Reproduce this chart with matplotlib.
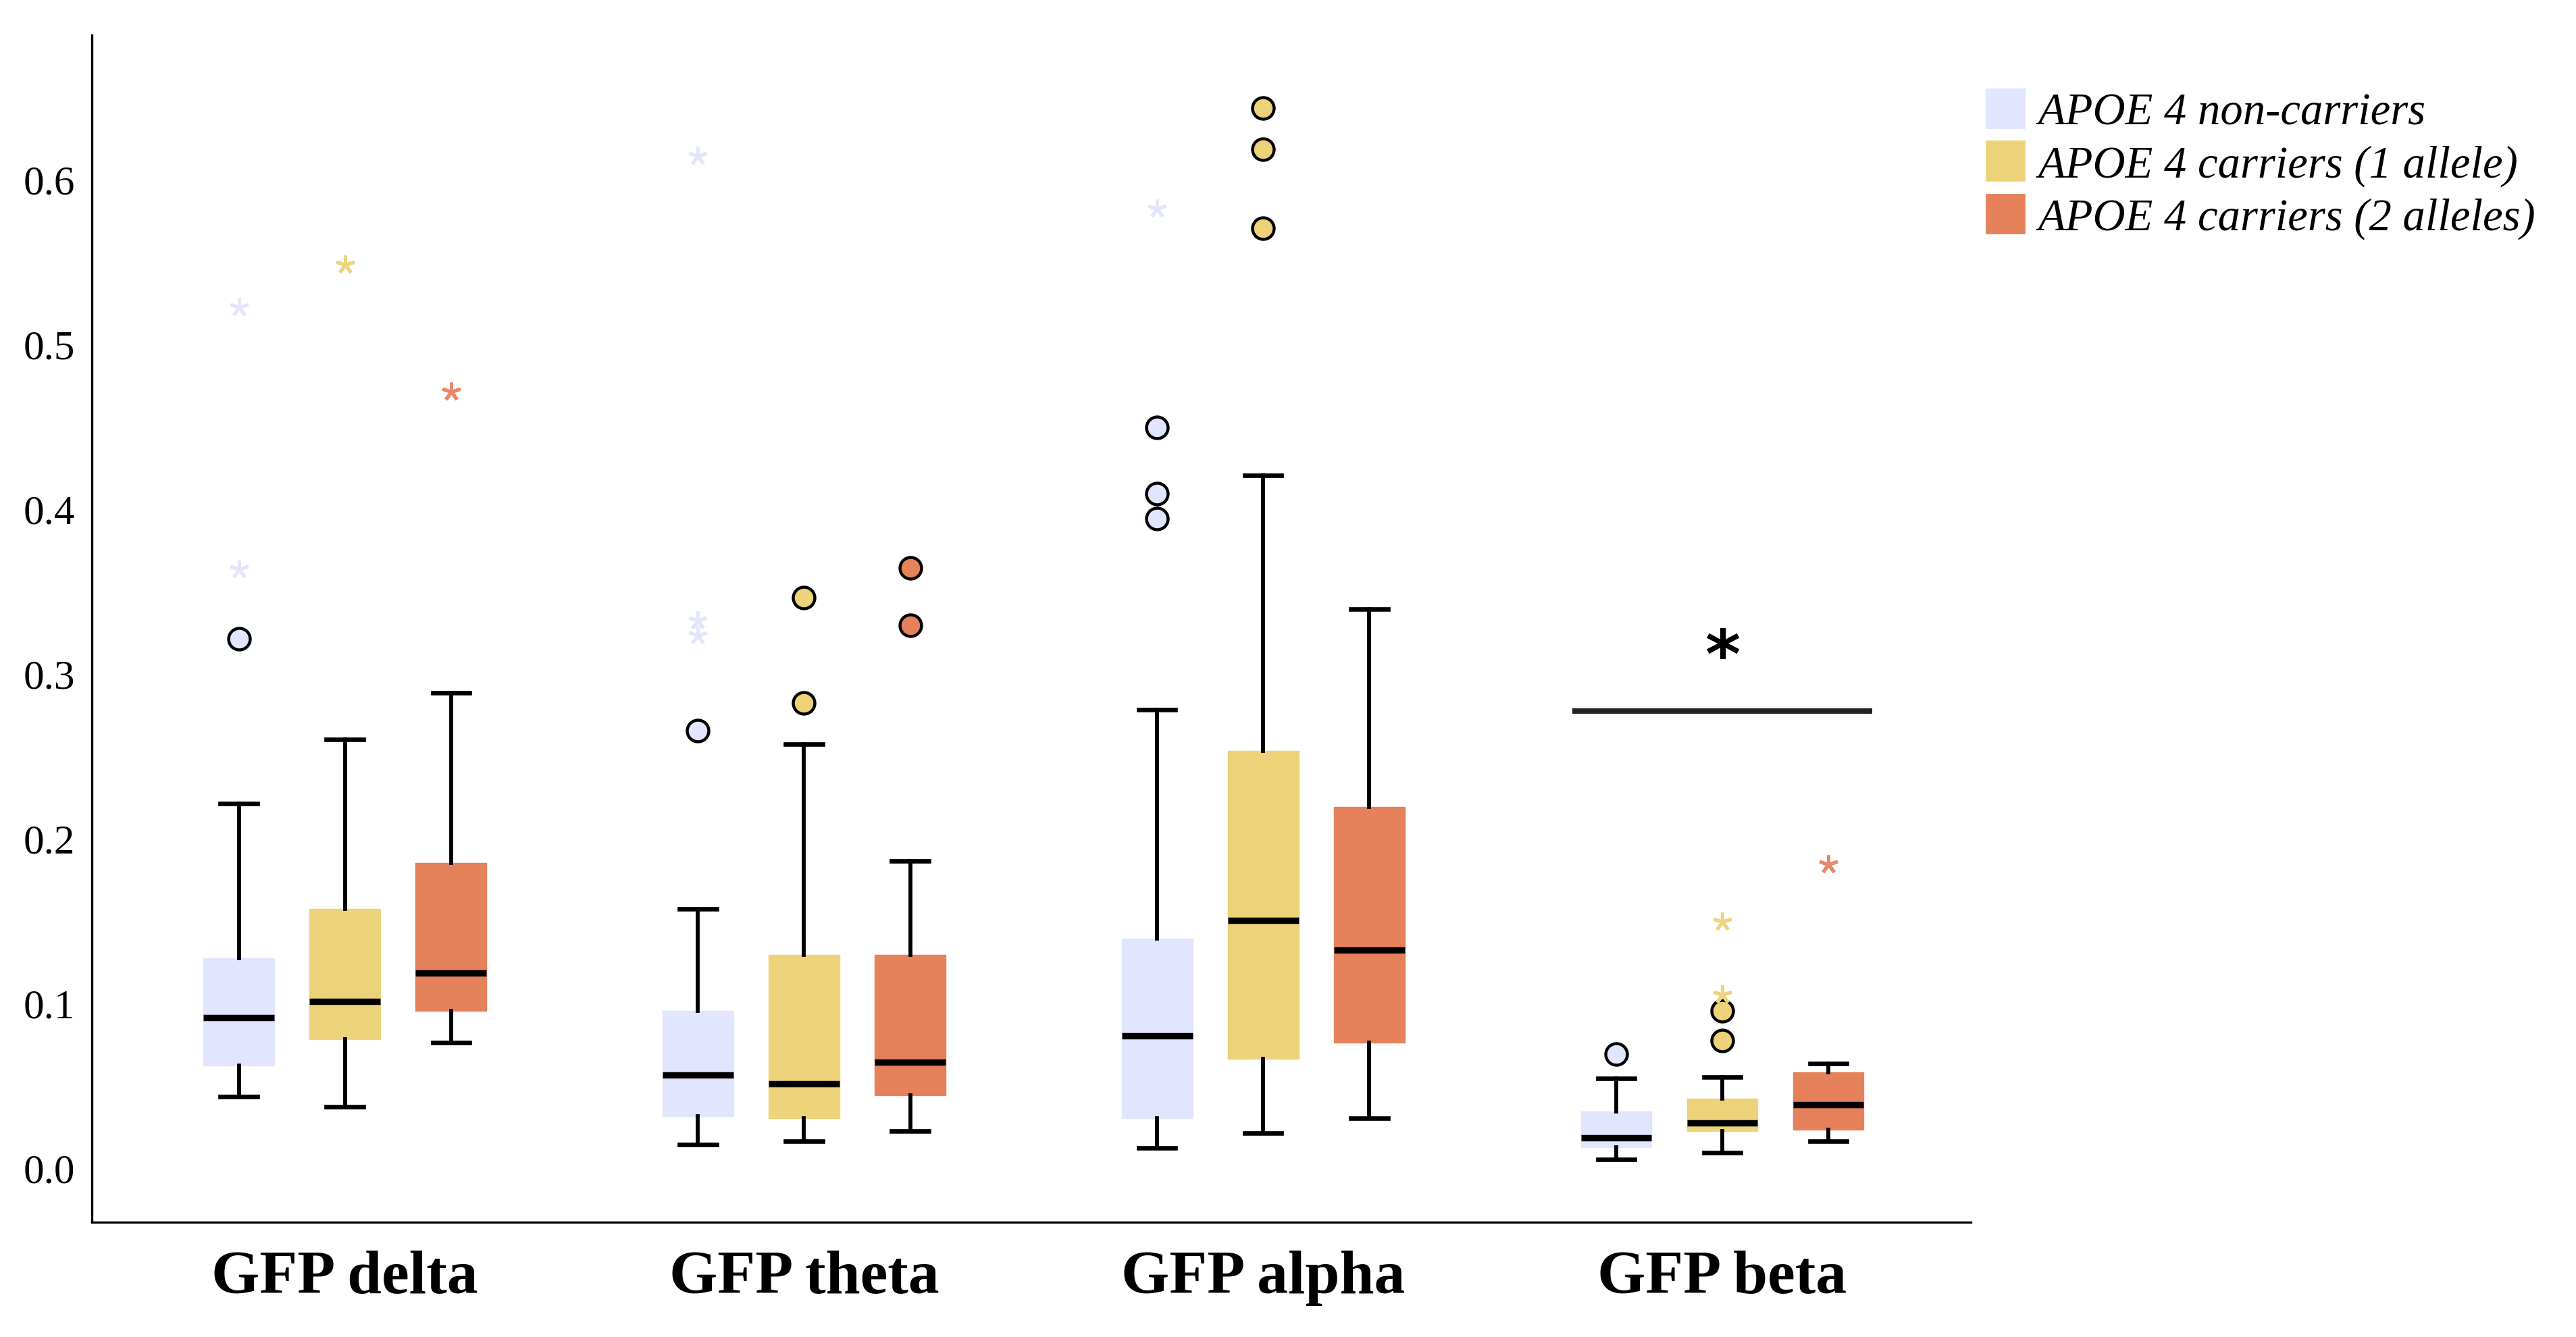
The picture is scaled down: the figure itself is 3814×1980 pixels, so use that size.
import matplotlib
matplotlib.use("Agg")
import matplotlib.pyplot as plt
from matplotlib.patches import Patch

# categories and groups
bands = ["GFP delta", "GFP theta", "GFP alpha", "GFP beta"]
groups = ["APOE 4 non-carriers", "APOE 4 carriers (1 allele)", "APOE 4 carriers (2 alleles)"]
colors = ["#E1E5FD", "#ECD379", "#E5825B"]
star_colors = ["#E3E6FB", "#EDD47E", "#E8876A"]

# box statistics per band, per group: (whislo, q1, median, q3, whishi)
box_stats = [
  [(0.043, 0.062, 0.091, 0.127, 0.221), (0.037, 0.078, 0.101, 0.157, 0.260), (0.076, 0.095, 0.118, 0.185, 0.288)],
  [(0.014, 0.031, 0.056, 0.095, 0.157), (0.016, 0.030, 0.051, 0.129, 0.257), (0.022, 0.044, 0.064, 0.129, 0.186)],
  [(0.012, 0.030, 0.080, 0.139, 0.278), (0.021, 0.066, 0.150, 0.253, 0.420), (0.030, 0.076, 0.132, 0.219, 0.339)],
  [(0.005, 0.0125, 0.018, 0.034, 0.054), (0.009, 0.022, 0.027, 0.042, 0.055), (0.016, 0.023, 0.038, 0.058, 0.063)],
]

# outliers (circles) per band, per group
outliers = [
  [[0.321], [], []],
  [[0.265], [0.282, 0.346], [0.329, 0.364]],
  [[0.394, 0.409, 0.449], [0.570, 0.618, 0.643], []],
  [[0.069], [0.077, 0.095], []],
]

# extreme values (stars) per band, per group
extremes = [
  [[0.363, 0.522], [0.548], [0.471]],
  [[0.323, 0.332, 0.614], [], []],
  [[0.582], [], []],
  [[], [0.105, 0.149], [0.184]],
]

yticks = [0.0, 0.1, 0.2, 0.3, 0.4, 0.5, 0.6]
sig_y = 0.277

#
# figure
#

fig = plt.figure(figsize=(19.07, 9.905), dpi=200)
ax = fig.add_axes([0.0357, 0.086, 0.7295, 0.887])

offset = 0.231
width = 0.154

for (g, color) in enumerate(colors):
  positions = [b + (g - 1) * offset for b in range(len(bands))]
  stats = []
  for b in range(len(bands)):
    (lo, q1, med, q3, hi) = box_stats[b][g]
    stats.append(dict(whislo=lo, q1=q1, med=med, q3=q3, whishi=hi, fliers=outliers[b][g]))
  ax.bxp(
    stats,
    positions=positions,
    widths=width,
    patch_artist=True,
    showfliers=True,
    boxprops=dict(facecolor=color, edgecolor=color, linewidth=0.5),
    medianprops=dict(color="black", linewidth=3.4, solid_capstyle="butt"),
    whiskerprops=dict(color="black", linewidth=2.1),
    capprops=dict(color="black", linewidth=2.4),
    capwidths=width * 0.52,
    flierprops=dict(marker="o", markerfacecolor=color, markeredgecolor="black",
                    markeredgewidth=1.6, markersize=11.5, linestyle="none"),
    manage_ticks=False,
  )
  for b in range(len(bands)):
    ys = extremes[b][g]
    ax.plot([positions[b]] * len(ys), ys, linestyle="none", marker=(5, 2, 0),
            markersize=10, markeredgewidth=1.8, color=star_colors[g])

# significance bar over GFP beta
ax.plot([3 - 0.327, 3 + 0.327], [sig_y, sig_y], color="#222222", linewidth=2.9, solid_capstyle="butt")
ax.text(3, sig_y + 0.012, "*", ha="center", va="bottom", fontsize=36, fontweight="bold",
        family="DejaVu Sans")

# axes styling
ax.set_xlim(-0.551, 3.542)
ax.set_ylim(-0.033, 0.687)
ax.set_xticks(range(len(bands)))
ax.set_xticklabels(bands, family="Liberation Serif", fontweight="bold", fontsize=33)
ax.set_yticks(yticks)
ax.set_yticklabels([f"{v:.1f}" for v in yticks], family="Liberation Serif", fontsize=22)
ax.tick_params(axis="x", length=0, pad=15)
ax.tick_params(axis="y", length=0, pad=9)
for side in ["top", "right"]:
  ax.spines[side].set_visible(False)
for side in ["left", "bottom"]:
  ax.spines[side].set_linewidth(1.2)

# legend outside the axes
handles = [Patch(facecolor=c, edgecolor=c) for c in colors]
fig.legend(
  handles, groups,
  loc="upper left",
  bbox_to_anchor=(0.771, 0.933),
  frameon=False,
  prop=dict(family="Liberation Serif", style="italic", size=24),
  handlelength=0.85,
  handleheight=0.95,
  handletextpad=0.3,
  labelspacing=0.18,
  borderaxespad=0,
  borderpad=0,
)

plt.savefig("out.png", dpi=200)
